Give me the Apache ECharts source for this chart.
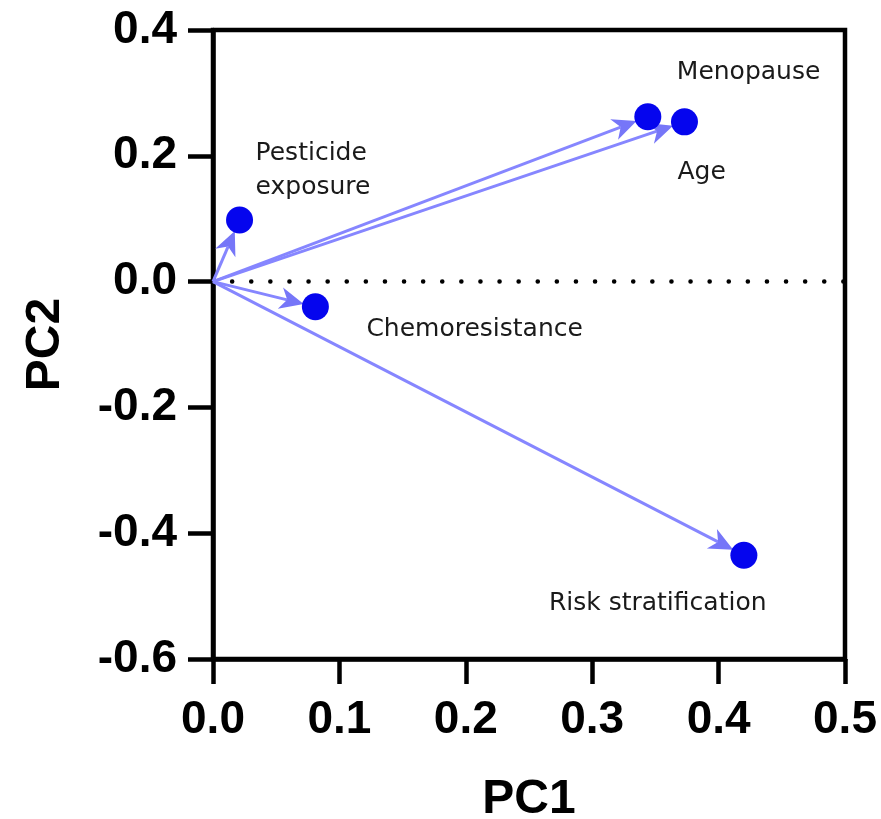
<!DOCTYPE html>
<html>
<head>
<meta charset="utf-8">
<script src="https://cdn.jsdelivr.net/npm/echarts@6/dist/echarts.min.js"></script>
<style>
  html, body { margin: 0; padding: 0; background: #fff; }
  #chart { width: 881px; height: 819px; }
</style>
</head>
<body>
<div id="chart"></div>
<script>
// loadings
const names = ['Pesticide\nexposure', 'Chemoresistance', 'Menopause', 'Age', 'Risk stratification']
const pc1 = [0.021, 0.081, 0.344, 0.373, 0.420]
const pc2 = [0.098, -0.040, 0.262, 0.254, -0.435]

const xTicks = [0, 0.1, 0.2, 0.3, 0.4, 0.5]
const yTicks = [-0.6, -0.4, -0.2, 0, 0.2, 0.4]

// label placement relative to the dot (pixels)
const labelPos = {
  'Pesticide\nexposure': [16, -49],
  'Chemoresistance': [51, 23],
  'Menopause': [29, -44],
  'Age': [-7, 51],
  'Risk stratification': [-195, 48]
}

const DOT = 27
const points = names.map((n, i) => ({
  value: [pc1[i], pc2[i]],
  name: n,
  label: {
    position: [labelPos[n][0] + DOT / 2, labelPos[n][1] + DOT / 2],
    align: 'left',
    verticalAlign: 'middle'
  }
}))

const lineColor = '#8686ff'
const headColor = '#7676f8'

const renderArrow = (params, api) => {
  const p0 = api.coord([0, 0])
  const p1 = api.coord([api.value(0), api.value(1)])
  const dx = p1[0] - p0[0]
  const dy = p1[1] - p0[1]
  const len = Math.sqrt(dx * dx + dy * dy)
  const ux = dx / len
  const uy = dy / len
  // stop the head at the edge of the dot
  const tip = [p1[0] - ux * 12, p1[1] - uy * 12]
  const base = [tip[0] - ux * 24, tip[1] - uy * 24]
  const notch = [tip[0] - ux * 17, tip[1] - uy * 17]
  const nx = -uy
  const ny = ux
  return {
    type: 'group',
    children: [
      {
        type: 'line',
        shape: { x1: p0[0], y1: p0[1], x2: notch[0], y2: notch[1] },
        style: { stroke: lineColor, lineWidth: 3 }
      },
      {
        type: 'polygon',
        shape: {
          points: [
            tip,
            [base[0] + nx * 11, base[1] + ny * 11],
            notch,
            [base[0] - nx * 11, base[1] - ny * 11]
          ]
        },
        style: { fill: headColor }
      }
    ]
  }
}

const chart = echarts.init(document.getElementById('chart'))
chart.setOption({
  animation: false,
  grid: {
    left: 213,
    right: 36,
    top: 30,
    bottom: 160,
    outerBoundsMode: 'none',
    containLabel: false,
    show: true,
    borderColor: '#000',
    borderWidth: 4.5
  },
  xAxis: {
    type: 'value',
    min: 0,
    max: 0.5,
    interval: 0.1,
    name: 'PC1',
    nameLocation: 'middle',
    nameGap: 117,
    nameTextStyle: { fontFamily: 'Liberation Sans', fontWeight: 'bold', fontSize: 48, color: '#000' },
    axisLine: { onZero: false, lineStyle: { color: '#000', width: 4.5 } },
    axisTick: { length: 25, lineStyle: { color: '#000', width: 4.5 } },
    axisLabel: {
      margin: 38,
      fontFamily: 'Liberation Sans',
      fontWeight: 'bold',
      fontSize: 46,
      color: '#000',
      formatter: (v) => v.toFixed(1),
      customValues: xTicks
    },
    splitLine: { show: false }
  },
  yAxis: {
    type: 'value',
    min: -0.6,
    max: 0.4,
    interval: 0.2,
    name: 'PC2',
    nameLocation: 'middle',
    nameGap: 143,
    nameTextStyle: { fontFamily: 'Liberation Sans', fontWeight: 'bold', fontSize: 48, color: '#000' },
    axisLine: { onZero: false, lineStyle: { color: '#000', width: 4.5 } },
    axisTick: { length: 25, lineStyle: { color: '#000', width: 4.5 } },
    axisLabel: {
      margin: 36,
      fontFamily: 'Liberation Sans',
      fontWeight: 'bold',
      fontSize: 46,
      color: '#000',
      formatter: (v) => v.toFixed(1),
      customValues: yTicks
    },
    splitLine: { show: false }
  },
  series: [
    {
      // dotted zero line
      type: 'line',
      data: [[0, 0], [0.5, 0]],
      symbol: 'none',
      silent: true,
      z: 1,
      lineStyle: { color: '#000', width: 4.5, type: [0.1, 19], cap: 'round' }
    },
    {
      type: 'custom',
      renderItem: renderArrow,
      data: names.map((n, i) => [pc1[i], pc2[i]]),
      z: 2
    },
    {
      type: 'scatter',
      data: points,
      symbolSize: DOT,
      z: 3,
      itemStyle: { color: '#0505ee', opacity: 1 },
      label: {
        show: true,
        formatter: (p) => p.name,
        fontFamily: 'DejaVu Sans',
        fontSize: 25,
        lineHeight: 34,
        color: '#1a1a1a'
      }
    }
  ]
})
</script>
</body>
</html>
